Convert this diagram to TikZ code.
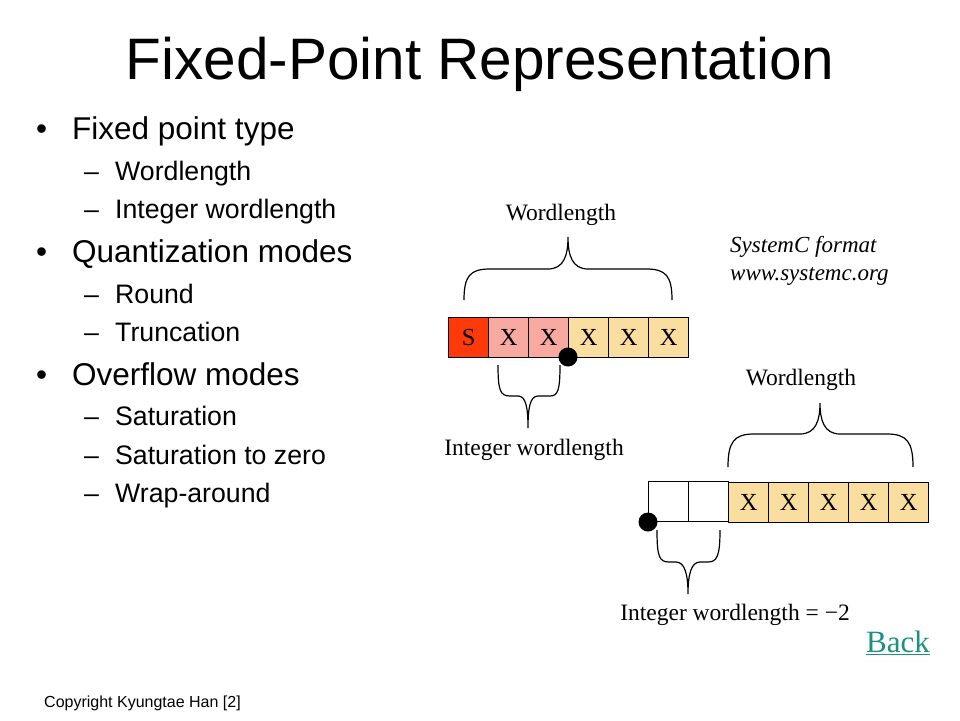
\documentclass[tikz,border=0pt]{standalone}
\usepackage{fontspec}
\setmainfont{Liberation Sans}
\newfontfamily\serifface{Liberation Serif}
\definecolor{sred}{RGB}{255,58,10}
\definecolor{spink}{RGB}{248,170,160}
\definecolor{sbeige}{RGB}{250,222,160}
\definecolor{backteal}{RGB}{28,146,126}
\begin{document}
\begin{tikzpicture}[x=1pt,y=-1pt,
  cellbox/.style={draw=black,line width=1.2pt,minimum width=40pt,minimum height=40pt,inner sep=0pt,anchor=north west,font=\serifface\fontsize{24.5}{24.5}\selectfont},
  bracepath/.style={draw=black,line width=1.2pt},
  lbl/.style={anchor=base,inner sep=0pt,font=\serifface\fontsize{23.5}{23.5}\selectfont},
  mainbul/.style={anchor=base west,inner sep=0pt,font=\fontsize{31.5}{31.5}\selectfont},
  subbul/.style={anchor=base west,inner sep=0pt,font=\fontsize{26.7}{26.7}\selectfont},
  dot/.style={circle,fill=black,minimum size=19pt,inner sep=0pt}]
\useasboundingbox (0,0) rectangle (960,720);
\fill[white] (0,0) rectangle (960,720);
% title
\node[anchor=base,inner sep=0pt,font=\fontsize{58.5}{58.5}\selectfont] (title) at (480,79) {Fixed-Point Representation};
% bullets
\node[mainbul] (b1) at (36,139) {\makebox[36pt][l]{•}Fixed point type};
\node[subbul] (s1) at (84,180) {\makebox[31pt][l]{–}Wordlength};
\node[subbul] (s2) at (84,218) {\makebox[31pt][l]{–}Integer wordlength};
\node[mainbul] (b2) at (36,262) {\makebox[36pt][l]{•}Quantization modes};
\node[subbul] (s3) at (84,303) {\makebox[31pt][l]{–}Round};
\node[subbul] (s4) at (84,341) {\makebox[31pt][l]{–}Truncation};
\node[mainbul] (b3) at (36,385) {\makebox[36pt][l]{•}Overflow modes};
\node[subbul] (s5) at (84,425) {\makebox[31pt][l]{–}Saturation};
\node[subbul] (s6) at (84,464) {\makebox[31pt][l]{–}Saturation to zero};
\node[subbul] (s7) at (84,502) {\makebox[31pt][l]{–}Wrap-around};
% top register
\node[cellbox,fill=sred] (c1) at (448,317) {S};
\node[cellbox,fill=spink] (c2) at (488,317) {X};
\node[cellbox,fill=spink] (c3) at (528,317) {X};
\node[cellbox,fill=sbeige] (c4) at (568,317) {X};
\node[cellbox,fill=sbeige] (c5) at (608,317) {X};
\node[cellbox,fill=sbeige] (c6) at (648,317) {X};
\node[dot] (p1) at (568,357) {};
% top wordlength brace
\path[bracepath] (464,300) .. controls (464,276) and (470,269) .. (490,269) -- (548,269) .. controls (564,269) and (568,255) .. (568,237) .. controls (568,255) and (572,269) .. (588,269) -- (646,269) .. controls (666,269) and (672,276) .. (672,300);
\node[lbl] (wl1) at (561,220) {Wordlength};
% top integer brace
\path[bracepath] (498,365) .. controls (498,390) and (500,396) .. (510,396) -- (518,396) .. controls (526,396) and (528,408) .. (528,428) .. controls (528,408) and (530,396) .. (538,396) -- (550,396) .. controls (558,396) and (560,390) .. (560,365);
\node[lbl] (iw1) at (534,455) {Integer wordlength};
% systemc note
\node[anchor=base west,inner sep=0pt,font=\serifface\itshape\fontsize{23}{23}\selectfont] (sc1) at (730,252) {SystemC format};
\node[anchor=base west,inner sep=0pt,font=\serifface\itshape\fontsize{23}{23}\selectfont] (sc2) at (730,280) {www.systemc.org};
% bottom register
\node[cellbox,fill=white] (d1) at (648,481) {};
\node[cellbox,fill=white] (d2) at (688,481) {};
\node[cellbox,fill=sbeige] (d3) at (728,482) {X};
\node[cellbox,fill=sbeige] (d4) at (768,482) {X};
\node[cellbox,fill=sbeige] (d5) at (808,482) {X};
\node[cellbox,fill=sbeige] (d6) at (848,482) {X};
\node[cellbox,fill=sbeige] (d7) at (888,482) {X};
\node[dot] (p2) at (648,522) {};
% bottom wordlength brace
\path[bracepath] (728,467) .. controls (728,442) and (734,434) .. (754,434) -- (800,434) .. controls (816,434) and (820,420) .. (820,403) .. controls (820,420) and (824,434) .. (840,434) -- (887,434) .. controls (907,434) and (913,442) .. (913,467);
\node[lbl] (wl2) at (801,385) {Wordlength};
% bottom integer brace
\path[bracepath] (657,530) .. controls (657,556) and (659,562) .. (669,562) -- (676,562) .. controls (685,562) and (688,575) .. (688,594) .. controls (688,575) and (691,562) .. (700,562) -- (708,562) .. controls (717,562) and (720,556) .. (720,530);
\node[lbl] (iw2) at (735,620) {Integer wordlength = −2};
% back link
\node[anchor=base,inner sep=0pt,text=backteal,font=\serifface\fontsize{31}{31}\selectfont] (back) at (898,652) {\underline{Back}};
% copyright
\node[anchor=base west,inner sep=0pt,font=\fontsize{16}{16}\selectfont] (copy) at (44,707) {Copyright Kyungtae Han [2]};
\end{tikzpicture}
\end{document}
